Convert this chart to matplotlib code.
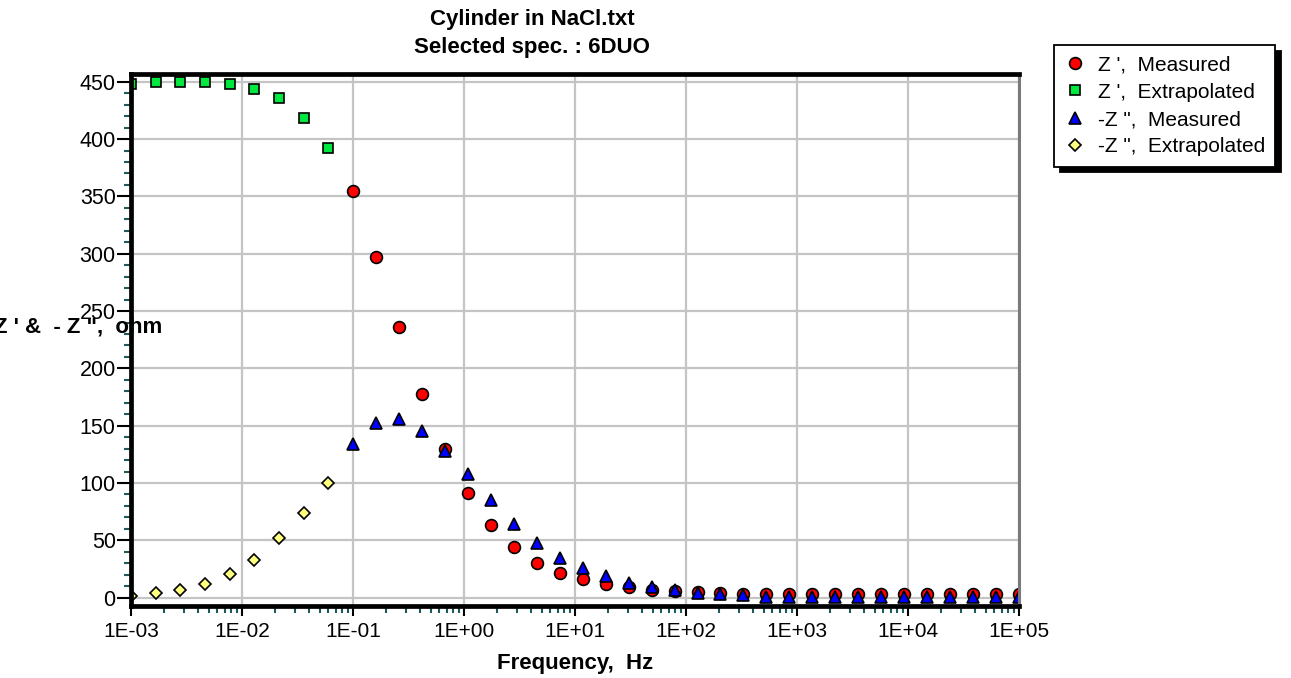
import matplotlib
matplotlib.use("Agg")
import matplotlib.pyplot as plt
from matplotlib.ticker import FixedLocator, LogLocator, MultipleLocator, NullFormatter

plt.rcParams["font.family"] = ["Liberation Sans", "DejaVu Sans"]

# ── Data ──────────────────────────────────────────────────────────────────────

freq_extrap = [1.0e-3, 1.67e-3, 2.78e-3, 4.64e-3, 7.74e-3,
               1.29e-2, 2.15e-2, 3.59e-2, 5.99e-2]
zre_extrap = [448, 450, 450, 450, 448, 444, 436, 418, 392]
zim_extrap = [1.5, 4, 7, 12, 21, 33, 52, 74, 100]

freq_meas = [0.1, 0.161, 0.259, 0.418, 0.672, 1.08, 1.74, 2.81, 4.52, 7.28,
             11.7, 18.9, 30.4, 48.9, 78.8, 127, 204, 329, 530, 853,
             1370, 2210, 3560, 5740, 9240, 14900, 24000, 38600, 62100, 100000]
zre_meas = [355, 297, 236, 178, 130, 91, 63.5, 44, 30, 21.5,
            16, 12, 9.5, 7, 6, 4.8, 4, 3.3, 2.8, 3.0,
            3.0, 3.0, 3.0, 3.0, 3.0, 3.0, 3.0, 3.0, 3.0, 3.0]
zim_meas = [134, 152, 156, 145, 128, 108, 85, 64, 48, 35,
            26, 18.5, 13, 9.5, 6.7, 4.5, 3, 2.5, 1, 1,
            1, 1, 1, 0.2, 0.2, 0.2, 0.2, 0.2, 0.2, 0.2]

labels = ["Z ',  Measured", "Z ',  Extrapolated",
          "-Z \",  Measured", "-Z \",  Extrapolated"]

# ── Figure ────────────────────────────────────────────────────────────────────

W, H = 1291, 678
fig = plt.figure(figsize=(W / 100, H / 100), dpi=100)
ax = fig.add_axes([131 / W, 1 - 605.7 / H, (1019 - 131) / W, (605.7 - 73.7) / H])

edge = dict(markeredgecolor="black", markeredgewidth=1.2, linestyle="none")
h_ge, = ax.plot(freq_extrap, zre_extrap, marker="s", markersize=6.5,
                markerfacecolor="#00e840", **edge)
h_ye, = ax.plot(freq_extrap, zim_extrap, marker="D", markersize=6.5,
                markerfacecolor="#ffff80", **edge)
h_rm, = ax.plot(freq_meas, zre_meas, marker="o", markersize=8.5,
                markerfacecolor="#ff0000", **edge)
h_bm, = ax.plot(freq_meas, zim_meas, marker="^", markersize=9,
                markerfacecolor="#0000ff", **edge)

ax.set_xscale("log")
ax.set_xlim(1e-3, 1e5)
ax.set_ylim(-7, 457)

ax.xaxis.set_major_locator(FixedLocator([10.0 ** k for k in range(-3, 6)]))
ax.xaxis.set_minor_locator(LogLocator(base=10, subs=range(2, 10), numticks=50))
ax.xaxis.set_minor_formatter(NullFormatter())
ax.set_xticklabels(["1E%+03d" % k for k in range(-3, 6)])
ax.yaxis.set_major_locator(MultipleLocator(50))
ax.yaxis.set_minor_locator(MultipleLocator(10))

ax.grid(True, which="major", color="#c4c4c4", linewidth=1.6)
ax.set_axisbelow(True)

ax.tick_params(axis="both", which="major", direction="out", color="black",
               width=1.5, labelsize=15)
ax.tick_params(axis="y", which="major", length=10, pad=1, labelsize=15.5)
ax.tick_params(axis="x", which="major", length=7, pad=5)
ax.tick_params(axis="both", which="minor", direction="out", color="#1f5a5a",
               width=1.5, length=5)

for side in ("left", "bottom", "top"):
    ax.spines[side].set_linewidth(3.4)
    ax.spines[side].set_color("black")
ax.spines["right"].set_linewidth(2.2)
ax.spines["right"].set_color("#7a7a7a")

# titles and labels
fig.text(532 / W, 1 - 20 / H, "Cylinder in NaCl.txt", ha="center", va="center",
         fontsize=16, fontweight="bold")
fig.text(532 / W, 1 - 47 / H, "Selected spec. : 6DUO", ha="center", va="center",
         fontsize=16, fontweight="bold")
fig.text(575 / W, 1 - 663 / H, "Frequency,  Hz", ha="center", va="center",
         fontsize=16, fontweight="bold")
fig.text(162 / W, 1 - 327 / H, "Z ' &  - Z \",  ohm", ha="right", va="center",
         fontsize=16, fontweight="bold")

leg = ax.legend([h_rm, h_ge, h_bm, h_ye], labels,
                loc="upper left", bbox_to_anchor=(1054 / W, 1 - 45 / H),
                bbox_transform=fig.transFigure, borderaxespad=0,
                fontsize=15, frameon=True, fancybox=False, framealpha=1,
                edgecolor="black", handlelength=1.0, handletextpad=0.6,
                borderpad=0.5, labelspacing=0.4,
                shadow={"color": "black", "alpha": 1, "ox": 4, "oy": -4})
leg.get_frame().set_linewidth(1.3)

fig.savefig("out.png", dpi=100, facecolor="white")
